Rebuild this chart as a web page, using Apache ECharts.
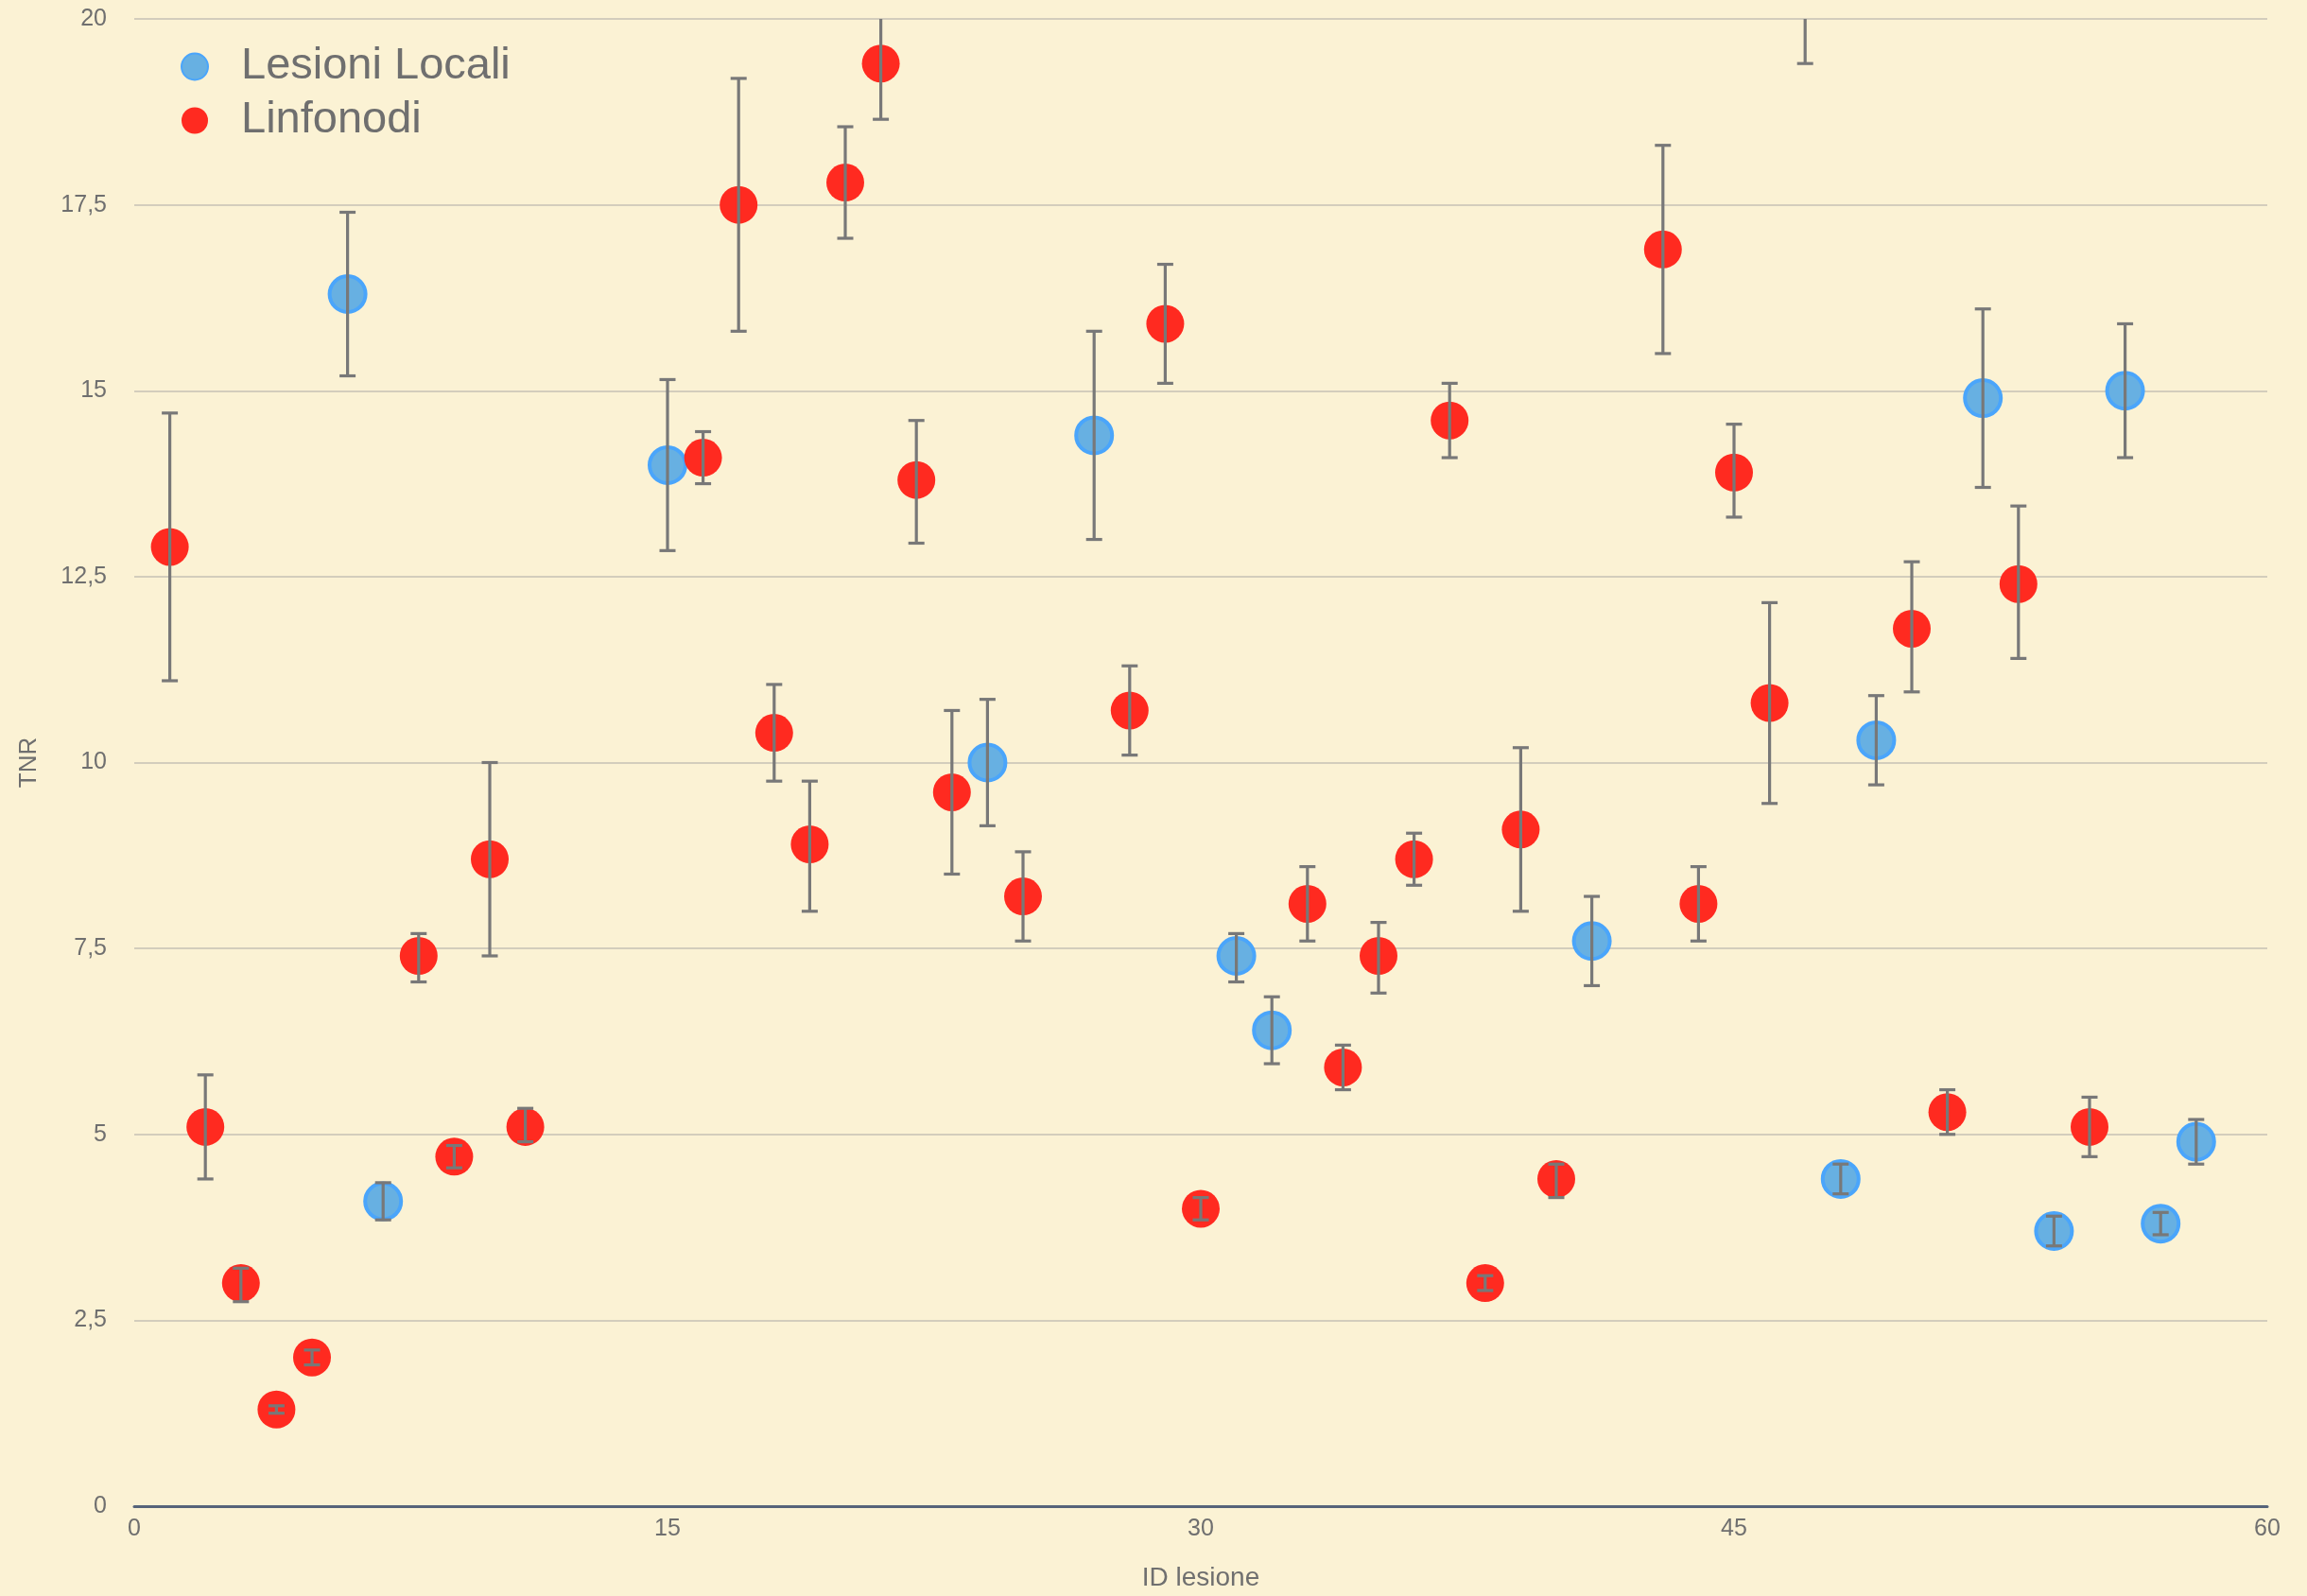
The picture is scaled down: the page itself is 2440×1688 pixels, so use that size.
<!DOCTYPE html>
<html>
<head>
<meta charset="utf-8">
<title>TNR per lesione</title>
<script src="https://cdn.jsdelivr.net/npm/echarts@6/dist/echarts.min.js"></script>
<style>
  html, body { margin: 0; padding: 0; background: #fbf2d4; }
  #chart { width: 2440px; height: 1688px; }
</style>
</head>
<body>
<div id="chart"></div>
<script>
// Lesioni locali: ID, TNR, intervallo (min, max)
const localiIds  = [6, 7, 15, 24, 27, 31, 32, 41, 48, 49, 52, 54, 56, 57, 58];
const localiTnr  = [16.3, 4.1, 14.0, 10.0, 14.4, 7.4, 6.4, 7.6, 4.4, 10.3, 14.9, 3.7, 15.0, 3.8, 4.9];
const localiLow  = [15.2, 3.85, 12.85, 9.15, 13.0, 7.05, 5.95, 7.0, 4.2, 9.7, 13.7, 3.5, 14.1, 3.65, 4.6];
const localiHigh = [17.4, 4.35, 15.15, 10.85, 15.8, 7.7, 6.85, 8.2, 4.6, 10.9, 16.1, 3.9, 15.9, 3.95, 5.2];

// Linfonodi: ID, TNR, intervallo (min, max)
const linfoIds  = [1, 2, 3, 4, 5, 8, 9, 10, 11, 16, 17, 18, 19, 20, 21, 22, 23, 25, 28, 29, 30, 33, 34, 35, 36, 37, 38, 39, 40, 43, 44, 45, 46, 47, 50, 51, 53, 55];
const linfoTnr  = [12.9, 5.1, 3.0, 1.3, 2.0, 7.4, 4.7, 8.7, 5.1, 14.1, 17.5, 10.4, 8.9, 17.8, 19.4, 13.8, 9.6, 8.2, 10.7, 15.9, 4.0, 8.1, 5.9, 7.4, 8.7, 14.6, 3.0, 9.1, 4.4, 16.9, 8.1, 13.9, 10.8, 21.0, 11.8, 5.3, 12.4, 5.1];
const linfoLow  = [11.1, 4.4, 2.75, 1.25, 1.9, 7.05, 4.55, 7.4, 4.9, 13.75, 15.8, 9.75, 8.0, 17.05, 18.65, 12.95, 8.5, 7.6, 10.1, 15.1, 3.85, 7.6, 5.6, 6.9, 8.35, 14.1, 2.9, 8.0, 4.15, 15.5, 7.6, 13.3, 9.45, 19.4, 10.95, 5.0, 11.4, 4.7];
const linfoHigh = [14.7, 5.8, 3.2, 1.35, 2.1, 7.7, 4.85, 10.0, 5.35, 14.45, 19.2, 11.05, 9.75, 18.55, 20.2, 14.6, 10.7, 8.8, 11.3, 16.7, 4.15, 8.6, 6.2, 7.85, 9.05, 15.1, 3.1, 10.2, 4.6, 18.3, 8.6, 14.55, 12.15, 22.6, 12.7, 5.6, 13.45, 5.5];

const seriesNames = ['Lesioni Locali', 'Linfonodi'];
const xTicks = { min: 0, max: 60, step: 15 };
const yTicks = { min: 0, max: 20, step: 2.5 };

const FONT = '"Liberation Sans", Arial, Helvetica, sans-serif';
const TEXT = '#6f6f6f';

function points(ids, vals) { return ids.map((id, i) => [id, vals[i]]); }
function bars(ids, lo, hi) { return ids.map((id, i) => [id, lo[i], hi[i]]); }

// Barre di errore con stanghette orizzontali alle estremità
function renderErrorBar(params, api) {
  const x = api.value(0);
  const top = api.coord([x, api.value(2)]);
  const bot = api.coord([x, api.value(1)]);
  const half = 8.5;
  const style = { stroke: '#787878', lineWidth: 3.2, fill: null };
  return {
    type: 'group',
    children: [
      { type: 'line', shape: { x1: top[0], y1: top[1], x2: bot[0], y2: bot[1] }, style },
      { type: 'line', shape: { x1: top[0] - half, y1: top[1], x2: top[0] + half, y2: top[1] }, style },
      { type: 'line', shape: { x1: bot[0] - half, y1: bot[1], x2: bot[0] + half, y2: bot[1] }, style }
    ]
  };
}

const chart = echarts.init(document.getElementById('chart'), null, { renderer: 'canvas' });

chart.setOption({
  backgroundColor: 'transparent',
  animation: false,
  textStyle: { fontFamily: FONT },
  grid: { left: 142, right: 42, top: 20, bottom: 92, containLabel: false },
  legend: {
    data: seriesNames,
    orient: 'vertical',
    left: 186,
    top: 42,
    icon: 'circle',
    itemWidth: 28,
    itemHeight: 28,
    itemGap: 10,
    textStyle: { fontSize: 47, color: TEXT, fontFamily: FONT, padding: [0, 0, 0, 30] }
  },
  xAxis: {
    type: 'value',
    min: xTicks.min, max: xTicks.max, interval: xTicks.step,
    name: 'ID lesione',
    nameLocation: 'middle',
    nameGap: 62,
    nameTextStyle: { fontSize: 28, color: TEXT, fontFamily: FONT },
    axisLine: { show: true, onZero: false, lineStyle: { color: '#56647a', width: 3 } },
    axisTick: { show: false },
    splitLine: { show: false },
    axisLabel: { fontSize: 25, color: TEXT, margin: 12, fontFamily: FONT }
  },
  yAxis: {
    type: 'value',
    min: yTicks.min, max: yTicks.max, interval: yTicks.step,
    name: 'TNR',
    nameLocation: 'middle',
    nameGap: 98,
    nameTextStyle: { fontSize: 26, color: TEXT, fontFamily: FONT },
    axisLine: { show: false },
    axisTick: { show: false },
    splitLine: { show: true, lineStyle: { color: '#d3cdbc', width: 2 } },
    axisLabel: {
      fontSize: 25, color: TEXT, margin: 29, fontFamily: FONT,
      formatter: v => String(v).replace('.', ',')
    }
  },
  series: [
    {
      name: seriesNames[0],
      type: 'scatter',
      data: points(localiIds, localiTnr),
      symbol: 'circle',
      symbolSize: 38,
      clip: true,
      itemStyle: { color: '#67b0e2', borderColor: '#4aa5fb', borderWidth: 4, opacity: 1 },
      z: 2
    },
    {
      name: seriesNames[1],
      type: 'scatter',
      data: points(linfoIds, linfoTnr),
      symbol: 'circle',
      symbolSize: 40,
      clip: true,
      itemStyle: { color: '#ff2a20', opacity: 1 },
      z: 2
    },
    {
      type: 'custom',
      data: bars(localiIds, localiLow, localiHigh),
      renderItem: renderErrorBar,
      encode: { x: 0, y: [1, 2] },
      clip: true,
      silent: true,
      z: 5
    },
    {
      type: 'custom',
      data: bars(linfoIds, linfoLow, linfoHigh),
      renderItem: renderErrorBar,
      encode: { x: 0, y: [1, 2] },
      clip: true,
      silent: true,
      z: 5
    }
  ]
});
</script>
</body>
</html>
